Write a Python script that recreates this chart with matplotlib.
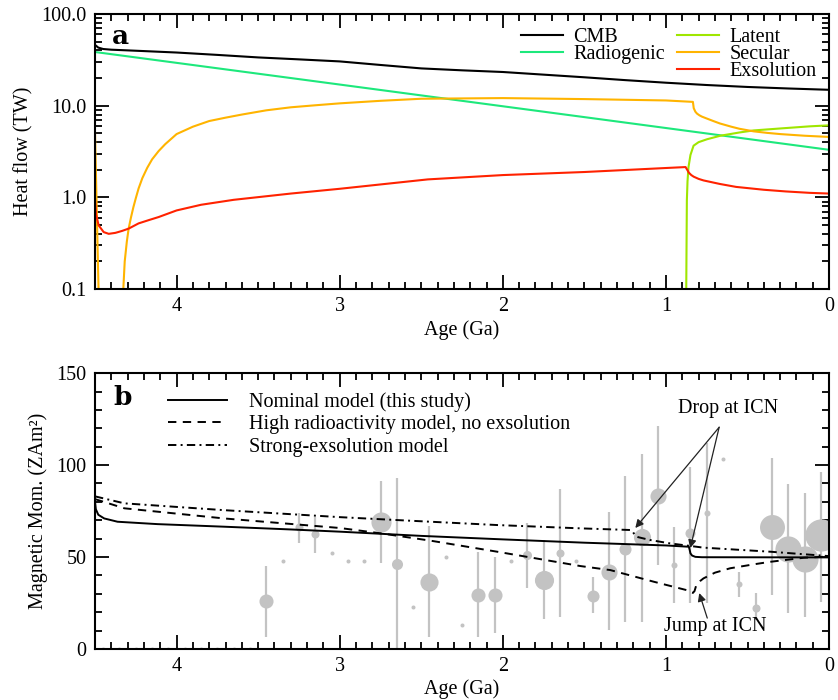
"""Core heat-flow budget (a) and dipole moment history vs paleointensity bins (b)."""

import matplotlib

matplotlib.use("Agg")

import matplotlib.pyplot as plt
import numpy as np
from matplotlib.lines import Line2D
from matplotlib.ticker import FixedLocator, FormatStrFormatter, LogLocator, MultipleLocator, NullFormatter

# ---------------- panel a: heat flow (TW) ----------------
cmb_age = [4.5, 4.48, 4.45, 4.4, 4.3, 4.2, 4.0, 3.75, 3.5, 3.25, 3.0, 2.75, 2.5, 2.25, 2.0,
           1.75, 1.5, 1.25, 1.0, 0.75, 0.5, 0.25, 0.0]
cmb_tw = [46.0, 43.0, 41.5, 40.8, 40.1, 39.4, 38.0, 35.8, 33.6, 32.0, 30.4, 27.8, 25.5, 24.3, 23.3,
          21.8, 20.4, 19.0, 17.8, 16.8, 16.0, 15.4, 14.9]

radio_age = [4.5, 3.0, 1.5, 0.0]
radio_tw = [38.5, 17.0, 7.5, 3.3]

latent_age = [0.876, 0.874, 0.872, 0.868, 0.862, 0.85, 0.831, 0.8, 0.749, 0.667, 0.55, 0.463,
              0.265, 0.12, 0.0]
latent_tw = [0.09, 0.3, 0.93, 1.5, 2.14, 2.9, 3.66, 4.0, 4.3, 4.7, 5.1, 5.37,
             5.7, 5.95, 6.1]

secular_age = [4.5, 4.478, np.nan, 4.328, 4.318, 4.305, 4.294, 4.28, 4.265, 4.25, 4.233, 4.21,
               4.18, 4.15, 4.11, 4.07, 4.0, 3.9, 3.8, 3.7, 3.6, 3.45, 3.3, 3.15, 3.0, 2.75,
               2.5, 2.0, 1.5, 1.0, 0.835, 0.83, 0.82, 0.81, 0.795, 0.78, 0.755, 0.71, 0.67,
               0.6, 0.55, 0.463, 0.38, 0.3, 0.15, 0.0]
secular_tw = [5.0, 0.09, np.nan, 0.09, 0.2, 0.33, 0.456, 0.6, 0.78, 0.98, 1.25, 1.62,
              2.1, 2.6, 3.2, 3.8, 4.9, 5.9, 6.8, 7.4, 8.0, 8.9, 9.6, 10.1, 10.6, 11.3,
              11.9, 12.1, 11.8, 11.4, 11.0, 9.4, 8.6, 8.2, 7.85, 7.6, 7.3, 6.8, 6.4,
              5.9, 5.6, 5.25, 5.05, 4.9, 4.7, 4.56]

exsol_age = [4.5, 4.498, 4.494, 4.478, 4.447, 4.416, 4.375, 4.335, 4.294, 4.233, 4.17, 4.11,
             4.0, 3.85, 3.65, 3.3, 3.0, 2.46, 2.0, 1.5, 1.0, 0.88, 0.87, 0.86, 0.845, 0.83,
             0.8, 0.77, 0.67, 0.57, 0.4, 0.265, 0.12, 0.0]
exsol_tw = [0.95, 0.85, 0.66, 0.495, 0.418, 0.40, 0.41, 0.43, 0.456, 0.52, 0.565, 0.61,
            0.72, 0.83, 0.94, 1.1, 1.24, 1.57, 1.75, 1.89, 2.09, 2.14, 2.0, 1.86, 1.75, 1.68,
            1.59, 1.53, 1.40, 1.30, 1.21, 1.16, 1.12, 1.10]

# ---------------- panel b: magnetic moment (ZAm^2) ----------------
nominal_age = [4.5, 4.495, 4.48, 4.444, 4.362, 4.117, 3.709, 3.3, 3.0, 2.5, 2.0, 1.5, 1.0,
               0.86, 0.855, 0.85, 0.84, 0.82, 0.78, 0.0]
nominal_mom = [80.0, 76.0, 73.0, 71.0, 69.2, 67.9, 66.5, 65.0, 63.8, 61.5, 59.6, 57.8, 56.3,
               55.6, 54.0, 52.0, 50.8, 50.1, 49.9, 49.8]

highrad_age = [4.5, 4.32, 3.71, 3.0, 2.749, 2.443, 2.035, 1.525, 1.341, 1.076, 0.86, 0.85,
               0.835, 0.825, 0.815, 0.79, 0.77, 0.7, 0.606, 0.45, 0.361, 0.157, 0.0]
highrad_mom = [81.5, 76.5, 71.0, 65.8, 62.9, 58.9, 52.9, 45.1, 42.9, 36.6, 31.7, 31.0,
               30.5, 31.5, 34.5, 37.0, 38.4, 41.5, 43.9, 46.2, 47.4, 49.6, 50.3]

strongex_age = [4.5, 4.32, 3.71, 3.0, 2.647, 2.035, 1.525, 1.219, 1.205, 1.19, 1.17, 1.1,
                0.974, 0.769, 0.361, 0.0]
strongex_mom = [83.0, 79.2, 75.5, 71.7, 70.1, 67.4, 65.6, 64.7, 64.0, 61.8, 60.8, 59.3,
                57.4, 55.1, 52.9, 50.5]

# 100 Myr paleointensity bins: centre age, median moment, error range, relative weight
bin_age = [4.45, 4.35, 4.25, 4.15, 4.05, 3.95, 3.85, 3.75, 3.65, 3.55,
           3.45, 3.35, 3.25, 3.15, 3.05, 2.95, 2.85, 2.75, 2.65, 2.55,
           2.45, 2.35, 2.25, 2.15, 2.05, 1.95, 1.85, 1.75, 1.65, 1.55,
           1.45, 1.35, 1.25, 1.15, 1.05, 0.95, 0.85, 0.75, 0.65, 0.55,
           0.45, 0.35, 0.25, 0.15, 0.05]
bin_mom = [0, 0, 0, 0, 0, 0, 0, 0, 0, 0,
           26.1, 48.0, 66.1, 62.5, 52.0, 48.0, 48.0, 69.2, 46.2, 23.0,
           36.2, 50.2, 13.0, 29.3, 29.3, 48.0, 51.0, 37.5, 52.3, 48.0,
           28.8, 42.0, 54.2, 61.0, 83.2, 45.7, 63.2, 74.1, 103.1, 35.2,
           22.5, 66.3, 54.5, 49.0, 62.0]
bin_lo = [np.nan] * 10 + [
    6.4, np.nan, 57.4, 52.3, np.nan, np.nan, np.nan, 46.6, 0.0, np.nan,
    6.4, np.nan, np.nan, 6.4, 8.5, np.nan, 33.0, 16.1, 17.6, np.nan,
    19.4, 10.3, 14.8, 14.8, 45.7, 25.2, 25.2, 25.2, np.nan, 28.4,
    15.8, 29.3, 19.4, 17.2, 25.7]
bin_hi = [np.nan] * 10 + [
    45.3, np.nan, 74.1, 71.9, np.nan, np.nan, np.nan, 91.3, 92.8, np.nan,
    66.8, np.nan, np.nan, 52.5, 50.2, np.nan, 68.3, 59.2, 87.0, np.nan,
    39.3, 74.6, 94.0, 106.0, 121.2, 66.5, 99.0, 111.8, np.nan, 42.0,
    30.6, 103.6, 89.7, 85.0, 96.4]
bin_weight = [1, 1, 1, 1, 1, 1, 1, 1, 1, 1,
              3.5, 1, 2, 2, 1, 1, 1, 5, 2.75, 1,
              4.5, 1, 1, 3.5, 3.5, 1, 2.25, 4.75, 2, 1,
              3, 4, 3, 4.25, 4, 1.5, 2.5, 1.5, 1, 1.5,
              2, 6.2, 6.5, 6.5, 8]

FS = 14.5
GREY = "#c3c3c3"

plt.rcParams["font.family"] = ["Liberation Serif", "DejaVu Serif"]
plt.rcParams["font.size"] = FS


def style_axes(ax):
    for sp in ax.spines.values():
        sp.set_linewidth(1.5)
    ax.tick_params(which="both", direction="in", top=True, right=True, width=1.3, labelsize=FS)
    ax.tick_params(which="major", length=10, pad=6)
    ax.tick_params(which="minor", length=5)
    ax.set_xlim(4.5, 0.0)
    ax.xaxis.set_major_locator(MultipleLocator(1))
    ax.xaxis.set_minor_locator(MultipleLocator(0.1))
    ax.xaxis.set_major_formatter(FormatStrFormatter("%d"))


fig = plt.figure(figsize=(8.38, 7.0), dpi=100)
ax_a = fig.add_axes([0.1134, 0.5871, 0.876, 0.3929])
ax_b = fig.add_axes([0.1134, 0.0729, 0.876, 0.394])

# ---- panel a
lw = 1.5
h_cmb, = ax_a.plot(cmb_age, cmb_tw, color="black", lw=lw, label="CMB")
h_rad, = ax_a.plot(radio_age, radio_tw, color="#1de87c", lw=lw, label="Radiogenic")
h_lat, = ax_a.plot(latent_age, latent_tw, color="#9fe600", lw=lw, label="Latent")
h_sec, = ax_a.plot(secular_age, secular_tw, color="#ffb400", lw=lw, label="Secular")
h_exs, = ax_a.plot(exsol_age, exsol_tw, color="#ff2200", lw=lw, label="Exsolution")
ax_a.set_yscale("log")
ax_a.set_ylim(0.1, 100)
style_axes(ax_a)
ax_a.yaxis.set_major_locator(FixedLocator([0.1, 1, 10, 100]))
ax_a.yaxis.set_major_formatter(FormatStrFormatter("%.1f"))
ax_a.yaxis.set_minor_locator(LogLocator(base=10, subs=np.arange(2, 10)))
ax_a.yaxis.set_minor_formatter(NullFormatter())
ax_a.set_ylabel("Heat flow (TW)", labelpad=6)
ax_a.set_xlabel("Age (Ga)", labelpad=3)
blank = Line2D([], [], color="none")
ax_a.legend([h_cmb, h_rad, blank, h_lat, h_sec, h_exs],
            ["CMB", "Radiogenic", "", "Latent", "Secular", "Exsolution"],
            ncol=2, loc="upper right", bbox_to_anchor=(0.983, 0.95), frameon=False,
            fontsize=FS, handlelength=2.1, handletextpad=0.5, columnspacing=0.6,
            labelspacing=-0.1, borderpad=0.0, borderaxespad=0.0)
ax_a.text(0.034, 0.92, "a", transform=ax_a.transAxes, ha="center", va="center",
          fontsize=19, fontweight="bold", family="DejaVu Serif")

# ---- panel b
ax_b.vlines(bin_age, bin_lo, bin_hi, color=GREY, lw=1.6, zorder=1)
for a, m, w in zip(bin_age, bin_mom, bin_weight):
    ax_b.plot(a, m, "o", ms=2.9 * w, color=GREY, mec="none", zorder=2)

blw = 1.4
ax_b.plot(nominal_age, nominal_mom, color="black", lw=blw, zorder=3,
          label="Nominal model (this study)")
ax_b.plot(highrad_age, highrad_mom, color="black", lw=blw, zorder=3, linestyle=(0, (4.3, 3.3)),
          label="High radioactivity model, no exsolution")
ax_b.plot(strongex_age, strongex_mom, color="black", lw=blw, zorder=3,
          linestyle=(0, (4.3, 2.2, 1.0, 2.2)), label="Strong-exsolution model")
ax_b.set_ylim(0, 150)
style_axes(ax_b)
ax_b.yaxis.set_major_locator(MultipleLocator(50))
ax_b.yaxis.set_minor_locator(MultipleLocator(10))
ax_b.set_ylabel("Magnetic Mom. (ZAm²)", labelpad=6)
ax_b.set_xlabel("Age (Ga)", labelpad=2)
ax_b.legend(loc="upper left", bbox_to_anchor=(0.1, 0.932), frameon=False, fontsize=FS,
            handlelength=2.9, handletextpad=1.1, labelspacing=0.18, borderpad=0.0,
            borderaxespad=0.0)
ax_b.text(0.037, 0.913, "b", transform=ax_b.transAxes, ha="center", va="center",
          fontsize=19, fontweight="bold", family="DejaVu Serif")

arrow = dict(arrowstyle="-|>", color="#222222", lw=0.9, mutation_scale=12, shrinkA=0, shrinkB=0)
ax_b.text(0.62, 131, "Drop at ICN", ha="center", va="center", fontsize=FS)
ax_b.annotate("", xy=(1.188, 65.8), xytext=(0.674, 120.6), arrowprops=arrow)
ax_b.annotate("", xy=(0.851, 54.9), xytext=(0.674, 120.6), arrowprops=arrow)
ax_b.text(0.7, 12, "Jump at ICN", ha="center", va="center", fontsize=FS)
ax_b.annotate("", xy=(0.796, 30.4), xytext=(0.747, 16.8), arrowprops=arrow)

fig.savefig("out.png", dpi=100, facecolor="white")
